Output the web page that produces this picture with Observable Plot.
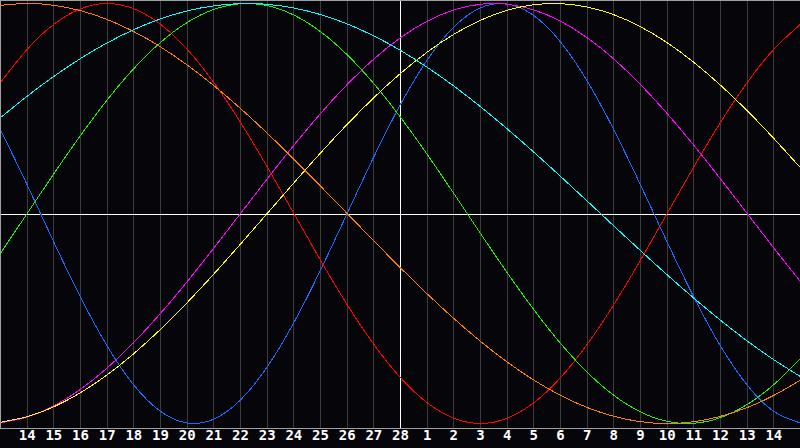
<!DOCTYPE html>
<html><head><meta charset="utf-8">
<script src="https://cdn.jsdelivr.net/npm/d3@7"></script>
<script src="https://cdn.jsdelivr.net/npm/@observablehq/plot@0.6"></script>
<style>html,body{margin:0;padding:0;background:#05050a;overflow:hidden}</style>
</head><body><div id="chart"></div>
<script>
// day positions 0..30 (0 = day 13 of previous month, off-label)
const dayIndex = [0,1,2,3,4,5,6,7,8,9,10,11,12,13,14,15,16,17,18,19,20,21,22,23,24,25,26,27,28,29,30];
const tickIndex = [1,2,3,4,5,6,7,8,9,10,11,12,13,14,15,16,17,18,19,20,21,22,23,24,25,26,27,28,29];
const dayLabels = ["14","15","16","17","18","19","20","21","22","23","24","25","26","27","28",
                   "1","2","3","4","5","6","7","8","9","10","11","12","13","14"];
const todayIndex = [15];

// series values (-1 .. 1)
const physical = [0.3984,0.1362,-0.1362,-0.3984,-0.6311,-0.8170,-0.9423,-0.9977,-0.9791,-0.8879,-0.7308,-0.5196,-0.2698,0,0.2698,0.5196,0.7308,0.8879,0.9791,0.9977,0.9423,0.8170,0.6311,0.3984,0.1362,-0.1362,-0.3984,-0.6311,-0.8170,-0.9423,-0.9977];
const emotional = [0.6235,0.7818,0.9010,0.9749,1,0.9749,0.9010,0.7818,0.6235,0.4339,0.2225,0,-0.2225,-0.4339,-0.6235,-0.7818,-0.9010,-0.9749,-1,-0.9749,-0.9010,-0.7818,-0.6235,-0.4339,-0.2225,0,0.2225,0.4339,0.6235,0.7818,0.9010];
const intellectual = [-0.1893,0,0.1893,0.3717,0.5406,0.6901,0.8146,0.9096,0.9718,0.9989,0.9898,0.9450,0.8660,0.7557,0.6182,0.4582,0.2817,0.0951,-0.0951,-0.2817,-0.4582,-0.6182,-0.7557,-0.8660,-0.9450,-0.9898,-0.9989,-0.9718,-0.9096,-0.8146,-0.6901];
const intuitive = [-0.9966,-0.9694,-0.9158,-0.8372,-0.7357,-0.6142,-0.4759,-0.3247,-0.1646,0,0.1646,0.3247,0.4759,0.6142,0.7357,0.8372,0.9158,0.9694,0.9966,0.9966,0.9694,0.9158,0.8372,0.7357,0.6142,0.4759,0.3247,0.1646,0,-0.1646,-0.3247];
const aesthetic = [-0.9940,-0.9675,-0.9204,-0.8534,-0.7684,-0.6671,-0.5517,-0.4244,-0.2881,-0.1456,0,0.1456,0.2881,0.4244,0.5517,0.6671,0.7684,0.8534,0.9204,0.9675,0.9940,0.9993,0.9834,0.9465,0.8893,0.8135,0.7199,0.6111,0.4894,0.3572,0.2174];
const awareness = [0.9914,1,0.9914,0.9659,0.9239,0.8660,0.7934,0.7071,0.6088,0.5,0.3827,0.2588,0.1305,0,-0.1305,-0.2588,-0.3827,-0.5,-0.6088,-0.7071,-0.7934,-0.8660,-0.9239,-0.9659,-0.9914,-1,-0.9914,-0.9659,-0.9239,-0.8660,-0.7934];
const spiritual = [0.4566,0.5586,0.6528,0.7380,0.8126,0.8757,0.9267,0.9646,0.9890,0.9996,0.9960,0.9786,0.9473,0.9028,0.8457,0.7765,0.6965,0.6068,0.5085,0.4031,0.2921,0.1769,0.0592,-0.0592,-0.1769,-0.2921,-0.4031,-0.5085,-0.6068,-0.6965,-0.7765];

const seriesNames = ["physical","emotional","intellectual","intuitive","aesthetic","awareness","spiritual"];
const seriesValues = [physical, emotional, intellectual, intuitive, aesthetic, awareness, spiritual];
const seriesColors = ["#1a6cff","#ff0000","#22ee00","#ff00ff","#ffff00","#ff8000","#00ffff"];

const lineMarks = seriesValues.map((vals, k) =>
  Plot.line(dayIndex.map((d, i) => ({d, v: vals[i], s: seriesNames[k]})),
    {x: "d", y: "v", stroke: seriesColors[k], strokeWidth: 1, curve: "natural", shapeRendering: "crispEdges"})
);

const chart = Plot.plot({
  width: 800,
  height: 448,
  marginLeft: 0,
  marginRight: 0,
  marginTop: 0,
  marginBottom: 20,
  style: {background: "#05050a", color: "white"},
  x: {domain: [0, 30], range: [0, 800], axis: null},
  y: {domain: [-1, 1], range: [423, 3], axis: null},
  marks: [
    Plot.ruleX(tickIndex, {stroke: "#3c3c3c", strokeWidth: 1, shapeRendering: "crispEdges"}),
    Plot.ruleX(todayIndex, {stroke: "#ffffff", strokeWidth: 1, shapeRendering: "crispEdges"}),
    Plot.ruleY([0], {stroke: "#ffffff", strokeWidth: 1, dy: 1, shapeRendering: "crispEdges"}),
    ...lineMarks,
    Plot.frame({stroke: "#a0a0a0", strokeWidth: 1, shapeRendering: "crispEdges"}),
    Plot.text(tickIndex, {
      x: d => d,
      text: (d, i) => dayLabels[i],
      frameAnchor: "bottom",
      dy: 11,
      fill: "#ffffff",
      fontWeight: "bold",
      fontSize: 14,
      fontFamily: "DejaVu Sans Mono"
    })
  ]
});
document.getElementById("chart").appendChild(chart);
</script>
</body></html>
